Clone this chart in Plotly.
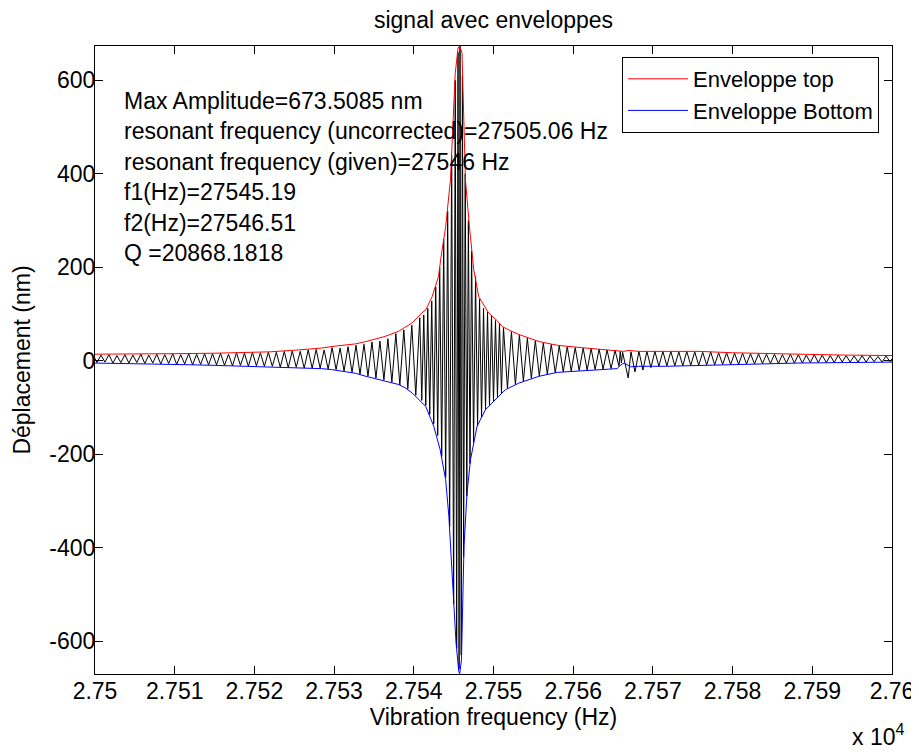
import plotly.graph_objects as go

# ---------------- data ----------------
# measured displacement signal (black), frequency in Hz, displacement in nm
sig_hz = [
    27500.00, 27500.25, 27500.75, 27501.25, 27501.75, 27502.25, 27502.75, 27503.25, 27503.75, 27504.25,
    27504.75, 27505.25, 27505.75, 27506.25, 27506.75, 27507.25, 27507.75, 27508.25, 27508.75, 27509.25,
    27509.75, 27510.25, 27510.75, 27511.25, 27511.75, 27512.25, 27512.75, 27513.25, 27513.75, 27514.25,
    27514.75, 27515.25, 27515.75, 27516.25, 27516.75, 27517.25, 27517.75, 27518.25, 27518.75, 27519.25,
    27519.75, 27520.25, 27520.75, 27521.25, 27521.75, 27522.25, 27522.75, 27523.25, 27523.75, 27524.25,
    27524.75, 27525.25, 27525.75, 27526.25, 27526.75, 27527.25, 27527.75, 27528.25, 27528.75, 27529.25,
    27529.75, 27530.25, 27530.75, 27531.25, 27531.75, 27532.25, 27532.75, 27533.25, 27533.75, 27534.25,
    27534.75, 27535.25, 27535.75, 27536.25, 27536.75, 27537.25, 27537.75, 27538.25, 27538.75, 27539.25,
    27539.75, 27540.25, 27540.75, 27541.00, 27541.25, 27541.50, 27541.75, 27542.00, 27542.25, 27542.50,
    27542.75, 27543.00, 27543.25, 27543.50, 27543.75, 27544.00, 27544.25, 27544.50, 27544.75, 27545.00,
    27545.20, 27545.38, 27545.55, 27545.68, 27545.80, 27545.95, 27546.10, 27546.25, 27546.45, 27546.65,
    27546.85, 27547.05, 27547.25, 27547.50, 27547.75, 27548.00, 27548.25, 27548.50, 27548.75, 27549.00,
    27549.25, 27549.50, 27549.75, 27550.00, 27550.25, 27550.50, 27550.75, 27551.00, 27551.25, 27551.75,
    27552.25, 27552.75,
    27553.25, 27553.75, 27554.25, 27554.75, 27555.25, 27555.75, 27556.25, 27556.75, 27557.25, 27557.75,
    27558.25, 27558.75, 27559.25, 27559.75, 27560.25, 27560.75, 27561.25, 27561.75, 27562.25, 27562.75,
    27563.25, 27563.75, 27564.25, 27564.75, 27565.25, 27565.75, 27565.90, 27566.05, 27566.20, 27566.90,
    27567.25, 27567.75, 27568.25, 27568.75, 27569.25, 27569.75, 27570.25, 27570.75, 27571.25, 27571.75,
    27572.25, 27572.75, 27573.25, 27573.75, 27574.25, 27574.75, 27575.25, 27575.75, 27576.25, 27576.75,
    27577.25, 27577.75, 27578.25, 27578.75, 27579.25, 27579.75, 27580.25, 27580.75, 27581.25, 27581.75,
    27582.25, 27582.75, 27583.25, 27583.75, 27584.25, 27584.75, 27585.25, 27585.75, 27586.25, 27586.75,
    27587.25, 27587.75, 27588.25, 27588.75, 27589.25, 27589.75, 27590.25, 27590.75, 27591.25, 27591.75,
    27592.25, 27592.75, 27593.25, 27593.75, 27594.25, 27594.75, 27595.25, 27595.75, 27596.25, 27596.75,
    27597.25, 27597.75, 27598.25, 27598.75, 27599.25, 27599.75, 27600.00,
]
sig_nm = [
    5, -4, 12, -3, 13, -5, 11, -4, 13, -5,
    12, -4, 14, -6, 12, -5, 14, -7, 13, -6,
    15, -8, 13, -7, 15, -9, 14, -8, 15, -9,
    15, -9, 16, -10, 14, -11, 17, -10, 16, -12,
    18, -11, 17, -12, 18, -12, 18, -14, 20, -15,
    21, -14, 20, -16, 23, -16, 24, -16, 23, -18,
    28, -19, 27, -22, 30, -25, 33, -29, 35, -33,
    40, -37, 42, -41, 47, -46, 58, -52, 66, -60,
    76, -74, 92, -85, 98, -96, 112, -115, 128, -135,
    158, -160, 200, -205, 260, -250, 320, -355, 440, -520,
    600, -615, 660, -660, 673, -630, 610, -420, 400, -290,
    300, -220, 235, -175, 180, -140, 132, -122, 112, -104,
    104, -96, 95, -86, 86, -78, 80, -70, 71, -59,
    62, -51,
    55, -44, 48, -38, 43, -33, 38, -29, 35, -26,
    32, -24, 30, -22, 28, -21, 27, -20, 26, -19,
    25, -18, 23, -17, 22, -12, 20, -5, 18, -37,
    19, -24, 20, -20, 20, -15, 20, -12, 20, -11,
    20, -11, 19, -11, 20, -10, 19, -10, 18, -9,
    19, -9, 17, -8, 17, -8, 16, -8, 16, -7,
    15, -7, 15, -6, 14, -6, 14, -6, 13, -5,
    14, -5, 13, -5, 12, -4, 13, -4, 12, -4,
    11, -4, 12, -3, 11, -3, 10, -3, 11, -3,
    10, -2, 9, -3, 10, -2, 4,
]

# upper envelope (red)
top_hz = [27500, 27505, 27510, 27515, 27519, 27522, 27525.5, 27528.4, 27530, 27532.7,
          27534, 27536.4, 27538.1, 27539, 27539.8, 27541, 27541.5, 27542.3, 27542.6, 27543.1,
          27543.4, 27544, 27544.6, 27544.9, 27545.2, 27545.55, 27545.76, 27546.05, 27546.26, 27546.48,
          27546.98, 27547.52, 27548.15, 27549.4, 27550.5, 27551.1, 27552, 27553.2, 27555.7, 27558,
          27561, 27563.2, 27565, 27566.3, 27567, 27568.2, 27572, 27575.8, 27580, 27584,
          27588.3, 27594, 27600]
top_nm = [14, 14, 15, 16, 18, 19, 23, 27, 31, 36,
          41, 52, 63, 72, 81, 102, 109, 137, 155, 180,
          220, 287, 387, 509, 615, 669, 673.5, 658, 544, 387,
          287, 195, 137, 102, 85, 73, 65, 56, 41, 33,
          28, 25, 22, 20, 22, 20, 20, 20, 17, 15,
          14, 12, 11]

# lower envelope (blue)
bot_hz = [27500, 27505, 27511.7, 27515, 27519.3, 27522, 27525.5, 27528.4, 27529.7, 27532.7,
          27533.9, 27536.4, 27538.1, 27538.9, 27539.8, 27541.5, 27542.5, 27543.3, 27544.0, 27544.4,
          27544.7, 27545.0, 27545.3, 27545.64, 27545.76, 27545.98, 27546.14, 27546.30, 27546.68, 27547.11,
          27547.94, 27548.99, 27550.66, 27551.5, 27553.17, 27555.68, 27558, 27561.96, 27563.2, 27565.5,
          27566.0, 27566.4, 27567.2, 27568.2, 27571.6, 27575.8, 27579.9, 27584, 27588.3, 27594,
          27600]
bot_nm = [-5, -6, -8.6, -10, -12, -13, -16, -17, -19, -27,
          -33, -44, -51, -58, -69, -98, -140, -190, -255, -333,
          -426, -526, -604, -665, -670, -640, -518, -397, -283, -212,
          -140, -105, -76, -62, -48, -33.5, -25, -20, -19, -17,
          -8.5, -5, -13, -12, -12, -10, -8.6, -7, -5, -4,
          -3]

x_ticks = [27500, 27510, 27520, 27530, 27540, 27550, 27560, 27570, 27580, 27590, 27600]
x_labels = ["2.75", "2.751", "2.752", "2.753", "2.754", "2.755",
            "2.756", "2.757", "2.758", "2.759", "2.76"]
y_ticks = [-600, -400, -200, 0, 200, 400, 600]
y_labels = ["-600", "-400", "-200", "0", "200", "400", "600"]

info_lines = [
    "Max Amplitude=673.5085 nm",
    "resonant frequency (uncorrected)=27505.06 Hz",
    "resonant frequency (given)=27546 Hz",
    "f1(Hz)=27545.19",
    "f2(Hz)=27546.51",
    "Q =20868.1818",
]

# ---------------- figure ----------------
FONT = "Liberation Sans, Arial, Helvetica, sans-serif"
FS = 23

# the page body has an 8px margin: size the figure so it ends at the window edge
OFF = 8
WIN_W, WIN_H = 919, 752
W, H = WIN_W - OFF, WIN_H - OFF
# plot area in window pixels
PX_L, PX_R, PX_T, PX_B = 95, 892, 46, 674
L, R, T, B = PX_L - OFF, W - (PX_R - OFF), PX_T - OFF, H - (PX_B - OFF)
plot_w, plot_h = PX_R - PX_L, PX_B - PX_T


def px_x(x):
    return (x - PX_L) / plot_w


def px_y(y):
    return (PX_B - y) / plot_h


fig = go.Figure()
fig.add_trace(go.Scatter(x=sig_hz, y=sig_nm, mode="lines", showlegend=False,
                         line=dict(color="#000000", width=1), hoverinfo="skip"))
fig.add_trace(go.Scatter(x=top_hz, y=top_nm, mode="lines", name="Enveloppe top",
                         line=dict(color="#ff0000", width=1)))
fig.add_trace(go.Scatter(x=bot_hz, y=bot_nm, mode="lines", name="Enveloppe Bottom",
                         line=dict(color="#0000ff", width=1)))

axis_style = dict(showline=True, linecolor="#000000", linewidth=1, mirror="ticks",
                  ticks="inside", ticklen=8, tickcolor="#000000", tickwidth=1,
                  showgrid=False, zeroline=False,
                  tickfont=dict(family=FONT, size=FS, color="#000000"))

fig.update_layout(
    width=W, height=H,
    margin=dict(l=L, r=R, t=T, b=B, pad=0, autoexpand=False),
    paper_bgcolor="white", plot_bgcolor="white",
    font=dict(family=FONT, size=FS, color="#000000"),
    title=dict(text="signal avec enveloppes", x=0.5, xref="paper", xanchor="center",
               y=1 - (20 - OFF) / H, yref="container", yanchor="middle",
               font=dict(family=FONT, size=FS, color="#000000")),
    xaxis=dict(range=[27500, 27600], tickmode="array", tickvals=x_ticks, ticktext=x_labels,
               ticklabelstandoff=-4,
               title=dict(text="Vibration frequency (Hz)", standoff=3,
                          font=dict(family=FONT, size=FS)),
               **axis_style),
    yaxis=dict(range=[-670.5, 673.5], tickmode="array", tickvals=y_ticks, ticktext=y_labels,
               ticklabelstandoff=-6,
               title=dict(text="Déplacement (nm)", standoff=12,
                          font=dict(family=FONT, size=FS)),
               **axis_style),
    legend=dict(x=px_x(879), y=px_y(57), xanchor="right", yanchor="top",
                bordercolor="#000000", borderwidth=1, bgcolor="white",
                font=dict(family=FONT, size=22, color="#000000"),
                itemwidth=60, tracegroupgap=0),
    showlegend=True,
)

# info text block, one line per annotation
first_y, step = 100.7, 30.5
for i, line in enumerate(info_lines):
    fig.add_annotation(text=line, xref="paper", yref="paper",
                       x=px_x(122), y=px_y(first_y + i * step),
                       xanchor="left", yanchor="middle", showarrow=False,
                       font=dict(family=FONT, size=FS, color="#000000"))

# axis exponent label
fig.add_annotation(text="x 10<sup>4</sup>", xref="paper", yref="paper",
                   x=px_x(906), y=px_y(735), xanchor="right", yanchor="middle",
                   showarrow=False, font=dict(family=FONT, size=FS, color="#000000"))

fig.write_html("out.html")
